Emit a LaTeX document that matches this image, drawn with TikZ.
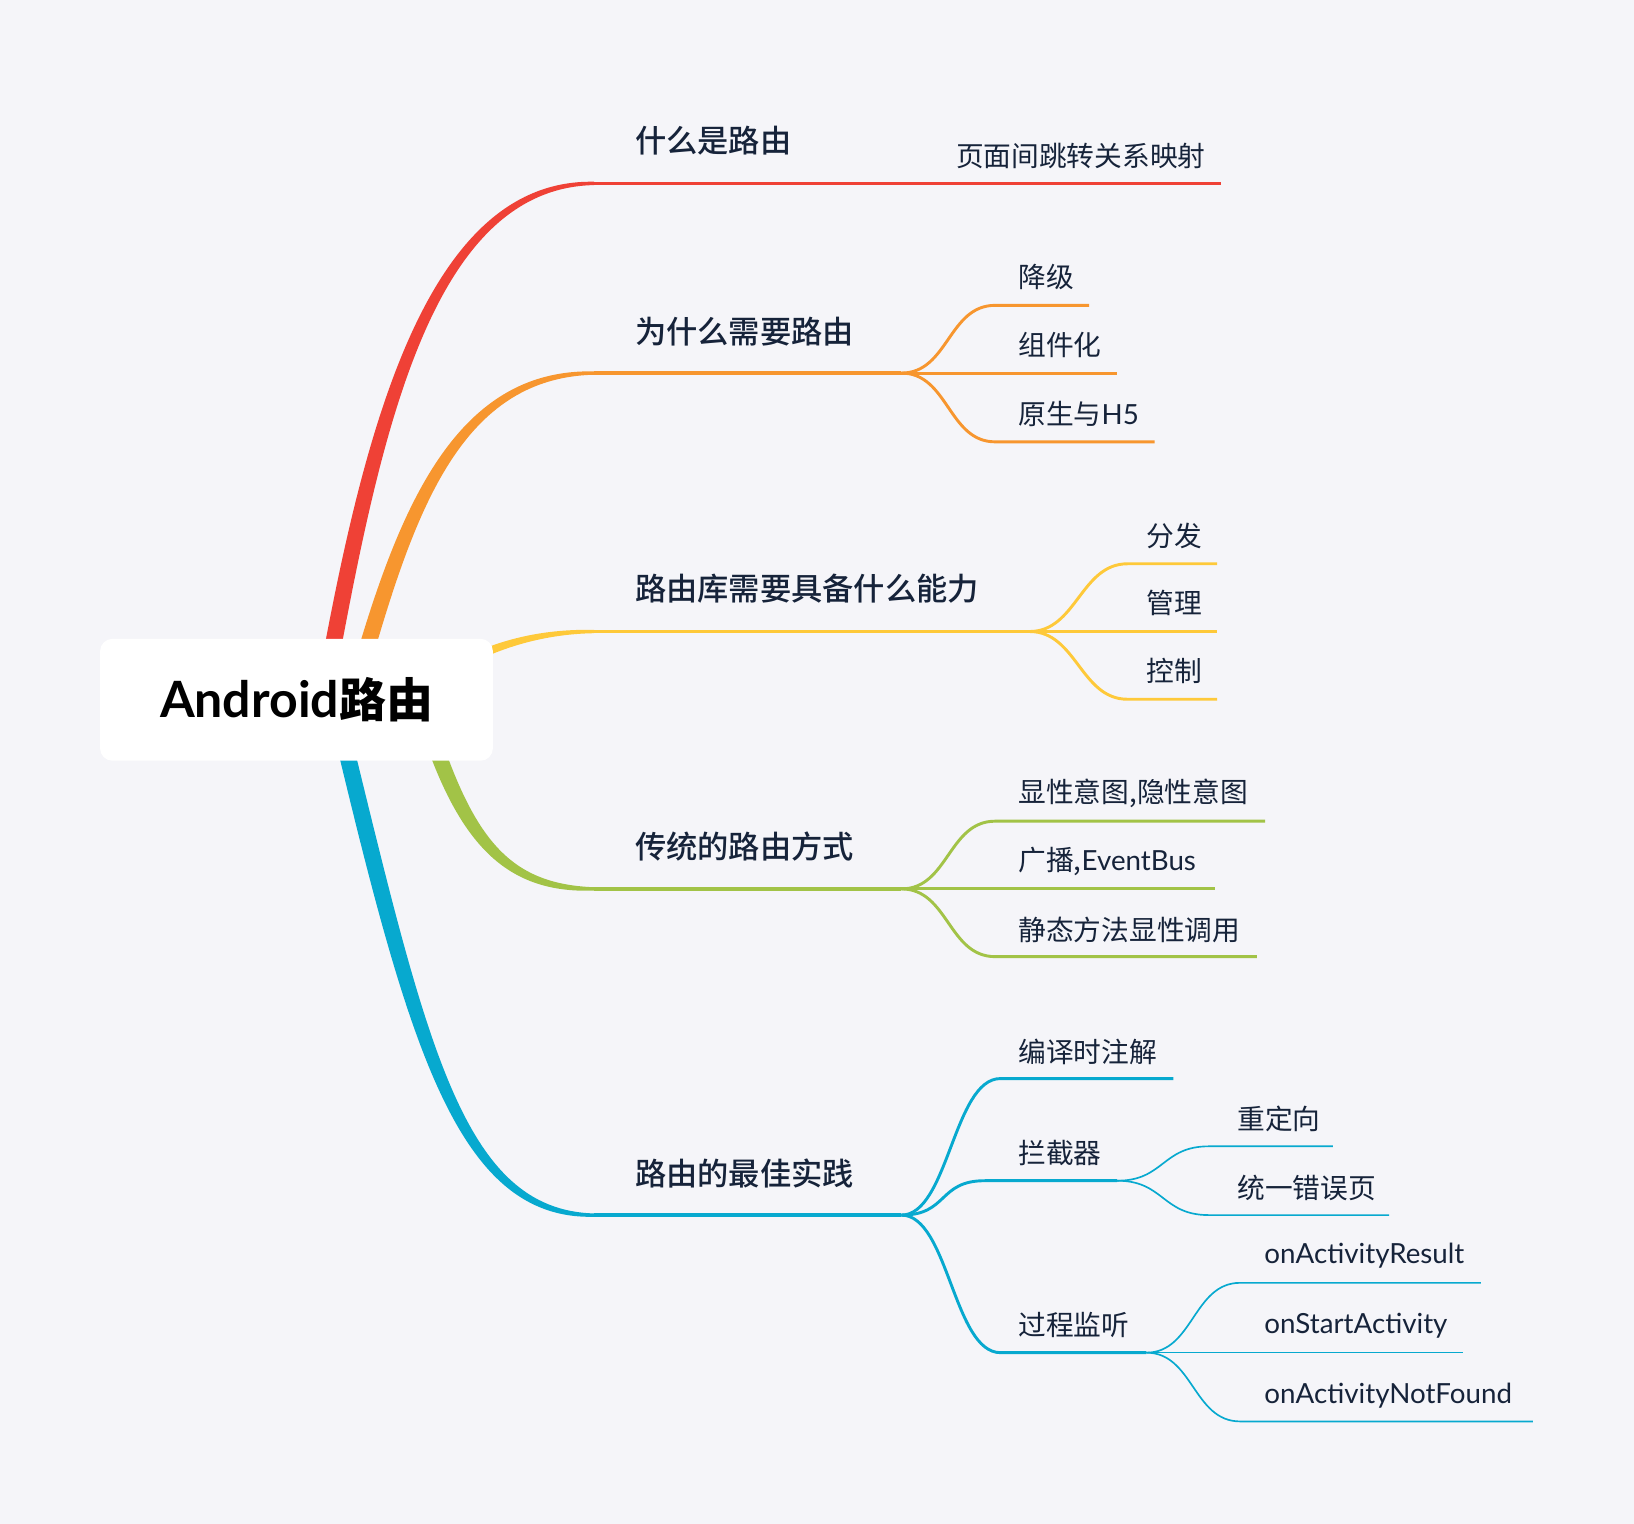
\documentclass[tikz,border=0pt]{standalone}
\usepackage{fontspec}
\setmainfont{Lato}
\newfontfamily\cjk{Noto Sans CJK SC}
\newfontfamily\cjkm{Noto Sans CJK SC Medium}
\newfontfamily\lat{Lato}
\usetikzlibrary{calc}
\definecolor{bgc}{HTML}{F5F5F9}
\definecolor{txt}{HTML}{16233A}
\definecolor{cred}{HTML}{EF4136}
\definecolor{corange}{HTML}{F7962F}
\definecolor{cyellow}{HTML}{FEC93A}
\definecolor{cgreen}{HTML}{A2C347}
\definecolor{cblue}{HTML}{07A9CF}
% #6 = 1 for a branch going up, -1 for a branch going down
\newcommand{\mmtaper}[6]{%
  \fill[#1] ($(#2)+(-8,0)$) .. controls ($(#3)+(-9,0)$) and ($(#4)+(-3,{-5*(#6)})$) .. ($(#5)+(0,{-1.6*(#6)})$)
    -- ($(#5)+(0,{1.6*(#6)})$) .. controls ($(#4)+(3,{5*(#6)})$) and ($(#3)+(9,0)$) .. ($(#2)+(8,0)$) -- cycle;}
\newcommand{\mmchild}[4]{% style, from, knee, end
  \draw[#1] (#2) .. controls +(45,0) and +(-45,0) .. (#3) -- (#4);}
\begin{document}
\begin{tikzpicture}[x=0.5pt,y=-0.5pt,
  lbl/.style={anchor=west, inner sep=0pt, text=txt},
  topic/.style={lbl, font=\cjkm\fontsize{15}{18}\selectfont},
  leaf/.style={lbl, font=\cjk\fontsize{13.3}{16}\selectfont},
  mline/.style={line width=1.6pt},
  cline/.style={line width=1.4pt},
  tline/.style={line width=0.8pt},
  root/.style={fill=white, rounded corners=6pt, minimum width=188.5pt, minimum height=58.5pt, inner sep=0pt}]
\fill[bgc] (0,0) rectangle (1568,1462);
\useasboundingbox (0,0) rectangle (1568,1462);

% ---------- coordinates of the main branches ----------
\coordinate (s1) at (305,700); \coordinate (a1) at (350,450); \coordinate (b1) at (400,176); \coordinate (r1) at (570,176);
\coordinate (s2) at (330,700); \coordinate (a2) at (380,520); \coordinate (b2) at (425,358); \coordinate (r2) at (570,358);
\coordinate (s4) at (400,660); \coordinate (a4) at (440,800); \coordinate (b4) at (480,853); \coordinate (r4) at (570,853);
\coordinate (s5) at (325,690); \coordinate (a5) at (400,1000); \coordinate (b5) at (440,1166); \coordinate (r5) at (570,1166);

\mmtaper{cred}{s1}{a1}{b1}{r1}{1}
\mmtaper{corange}{s2}{a2}{b2}{r2}{1}
\mmtaper{cgreen}{s4}{a4}{b4}{r4}{-1}
\mmtaper{cblue}{s5}{a5}{b5}{r5}{-1}
% yellow (mostly horizontal)
\coordinate (s3) at (420,650); \coordinate (a3) at (470,618); \coordinate (b3) at (520,606); \coordinate (r3) at (570,606);
\fill[cyellow] ($(s3)+(0,-5)$) .. controls ($(a3)+(0,-4.5)$) and ($(b3)+(0,-2.5)$) .. ($(r3)+(0,-1.6)$)
  -- ($(r3)+(0,1.6)$) .. controls ($(b3)+(0,2.5)$) and ($(a3)+(0,4.5)$) .. ($(s3)+(0,5)$) -- cycle;

% ---------- central node ----------
\node[root] (c) at (284.5,671.5) {\color{black}{\lat\bfseries\fontsize{24}{28}\selectfont Android}{\cjk\bfseries\fontsize{22.5}{28}\selectfont 路由}};

% ---------- red ----------
\coordinate (j1) at (865,176); \coordinate (e1) at (1172,176);
\draw[cred, mline] (r1) -- (j1);
\draw[cred, mline] (j1) -- (e1);
\node[topic] (t1) at (609,135) {什么是路由};
\node[leaf] (l11) at (917,150) {页面间跳转关系映射};

% ---------- orange ----------
\coordinate (j2) at (865,358);
\coordinate (k21) at (955,293); \coordinate (e21) at (1045,293);
\coordinate (e22) at (1072,358);
\coordinate (k23) at (955,424); \coordinate (e23) at (1108,424);
\draw[corange, mline] (r2) -- (j2);
\mmchild{corange, cline}{j2}{k21}{e21}
\draw[corange, cline] (j2) -- (e22);
\mmchild{corange, cline}{j2}{k23}{e23}
\node[topic] (t2) at (609,318) {为什么需要路由};
\node[leaf] (l21) at (977,266) {降级};
\node[leaf] (l22) at (977,331) {组件化};
\node[leaf] (l23) at (977,397) {原生与{\lat H5}};

% ---------- yellow ----------
\coordinate (j3) at (988,606);
\coordinate (k31) at (1082,541); \coordinate (e31) at (1168,541);
\coordinate (e32) at (1168,606);
\coordinate (k33) at (1082,671); \coordinate (e33) at (1168,671);
\draw[cyellow, mline] (r3) -- (j3);
\mmchild{cyellow, cline}{j3}{k31}{e31}
\draw[cyellow, cline] (j3) -- (e32);
\mmchild{cyellow, cline}{j3}{k33}{e33}
\node[topic] (t3) at (609,565) {路由库需要具备什么能力};
\node[leaf] (l31) at (1100,514) {分发};
\node[leaf] (l32) at (1100,579) {管理};
\node[leaf] (l33) at (1100,644) {控制};

% ---------- green ----------
\coordinate (j4) at (865,853);
\coordinate (k41) at (955,788); \coordinate (e41) at (1214,788);
\coordinate (e42) at (1166,853);
\coordinate (k43) at (955,918); \coordinate (e43) at (1206,918);
\draw[cgreen, mline] (r4) -- (j4);
\mmchild{cgreen, cline}{j4}{k41}{e41}
\draw[cgreen, cline] (j4) -- (e42);
\mmchild{cgreen, cline}{j4}{k43}{e43}
\node[topic] (t4) at (609,812) {传统的路由方式};
\node[leaf] (l41) at (977,761) {显性意图,隐性意图};
\node[leaf] (l42) at (977,827) {广播,{\lat EventBus}};
\node[leaf] (l43) at (977,892) {静态方法显性调用};

% ---------- blue ----------
\coordinate (j5) at (865,1166);
\coordinate (k51) at (960,1035); \coordinate (e51) at (1126,1035);
\coordinate (k52) at (945,1133); \coordinate (e52) at (1072,1133);
\coordinate (k53) at (960,1298); \coordinate (e53) at (1100,1298);
\draw[cblue, mline] (r5) -- (j5);
\mmchild{cblue, cline}{j5}{k51}{e51}
\mmchild{cblue, cline}{j5}{k52}{e52}
\mmchild{cblue, cline}{j5}{k53}{e53}
\coordinate (k521) at (1160,1100); \coordinate (e521) at (1279,1100);
\coordinate (k522) at (1160,1166); \coordinate (e522) at (1333,1166);
\mmchild{cblue, tline}{e52}{k521}{e521}
\mmchild{cblue, tline}{e52}{k522}{e522}
\coordinate (k531) at (1190,1231); \coordinate (e531) at (1421,1231);
\coordinate (e532) at (1404,1298);
\coordinate (k533) at (1190,1364); \coordinate (e533) at (1471,1364);
\mmchild{cblue, tline}{e53}{k531}{e531}
\draw[cblue, tline] (e53) -- (e532);
\mmchild{cblue, tline}{e53}{k533}{e533}
\node[topic] (t5) at (609,1126) {路由的最佳实践};
\node[leaf] (l51) at (977,1009) {编译时注解};
\node[leaf] (l52) at (977,1106) {拦截器};
\node[leaf] (l53) at (977,1271) {过程监听};
\node[leaf] (l521) at (1187,1074) {重定向};
\node[leaf] (l522) at (1187,1140) {统一错误页};
\node[leaf, font=\lat\fontsize{13.3}{16}\selectfont] (l531) at (1213,1205) {onActivityResult};
\node[leaf, font=\lat\fontsize{13.3}{16}\selectfont] (l532) at (1213,1272) {onStartActivity};
\node[leaf, font=\lat\fontsize{13.3}{16}\selectfont] (l533) at (1213,1339) {onActivityNotFound};
\end{tikzpicture}
\end{document}
